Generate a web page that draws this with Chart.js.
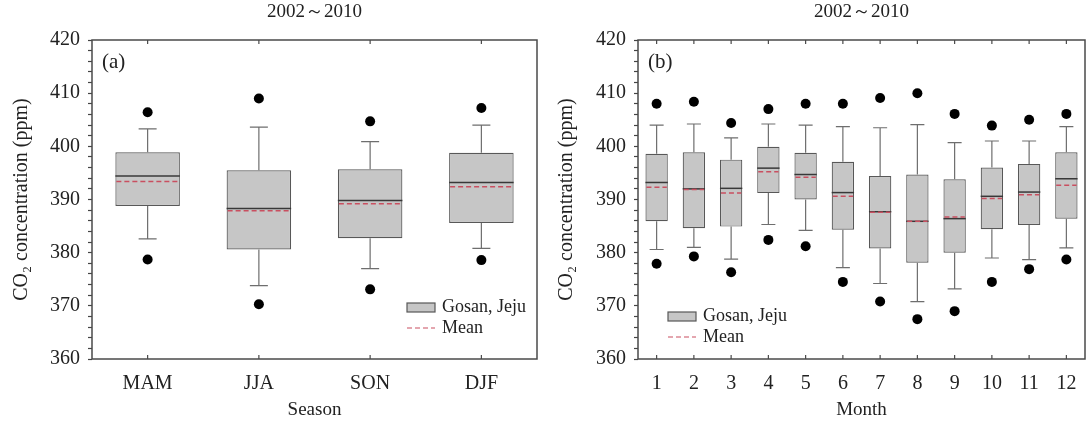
<!DOCTYPE html>
<html>
<head>
<meta charset="utf-8">
<script src="https://cdn.jsdelivr.net/npm/chart.js@4.4.1/dist/chart.umd.min.js"></script>
<style>
  body { margin: 0; background: #fff; }
  #wrap { position: relative; width: 1090px; height: 423px; }
  .panel { position: absolute; top: 0; width: 545px; height: 423px; }
</style>
</head>
<body>
<div id="wrap">
  <div class="panel" style="left:0"><canvas id="seasonChart" width="545" height="423"></canvas></div>
  <div class="panel" style="left:545px"><canvas id="monthChart" width="545" height="423"></canvas></div>
</div>
<script>
// (a) по сезонам
const seasons = ['MAM', 'JJA', 'SON', 'DJF'];
const seasonQ1 = [388.8, 380.6, 382.7, 385.6];
const seasonQ3 = [398.9, 395.5, 395.7, 398.8];
const seasonMedian = [394.4, 388.3, 389.8, 393.2];
const seasonMean = [393.4, 387.9, 389.2, 392.4];
const seasonLow = [382.6, 373.8, 377.0, 380.8];   // нижний ус
const seasonHigh = [403.3, 403.6, 400.9, 404.0];  // верхний ус
const seasonMin = [378.7, 370.3, 373.1, 378.6];   // выбросы снизу
const seasonMax = [406.4, 409.0, 404.7, 407.2];   // выбросы сверху

// (b) по месяцам
const months = ['1', '2', '3', '4', '5', '6', '7', '8', '9', '10', '11', '12'];
const monthQ1 = [385.9, 384.6, 384.9, 391.2, 390.0, 384.3, 380.8, 378.1, 380.0, 384.4, 385.2, 386.4];
const monthQ3 = [398.6, 398.9, 397.5, 399.9, 398.8, 397.1, 394.4, 394.7, 393.8, 396.0, 396.7, 398.9];
const monthMedian = [393.2, 392.0, 392.1, 395.9, 394.7, 391.3, 387.7, 385.9, 386.4, 390.6, 391.4, 393.9];
const monthMean = [392.3, 391.9, 391.2, 395.2, 394.2, 390.6, 387.6, 385.9, 386.7, 390.2, 390.9, 392.7];
const monthLow = [380.6, 381.0, 378.8, 385.3, 384.2, 377.2, 374.2, 370.8, 373.2, 379.0, 378.7, 380.9];
const monthHigh = [404.0, 404.2, 401.6, 404.2, 404.0, 403.7, 403.5, 404.1, 400.7, 401.0, 401.0, 403.7];
const monthMin = [377.9, 379.3, 376.3, 382.4, 381.2, 374.5, 370.8, 367.5, 369.0, 374.5, 376.9, 378.7];
const monthMax = [408.0, 408.4, 404.4, 407.0, 408.0, 408.0, 409.1, 410.0, 406.1, 403.9, 405.0, 406.1];

const FONT = "'Liberation Serif', 'Times New Roman', serif";
const TEXT = '#222';
const BOX_FILL = '#c6c6c6';
const BOX_LINE = '#585858';
const MEAN_COLOR = '#c94f60';

const boxPlugin = {
  id: 'boxplot',
  afterDatasetsDraw(chart) {
    const ctx = chart.ctx;
    const y = chart.scales.y;
    const ds = chart.data.datasets[0];
    const s = ds.stats;
    const bars = chart.getDatasetMeta(0).data;
    ctx.save();
    bars.forEach(function(bar, i) {
      const half = bar.width / 2;
      const cap = s.cap / 2;
      // усы
      ctx.setLineDash([]);
      ctx.strokeStyle = '#6e6e6e';
      ctx.lineWidth = 1.2;
      ctx.beginPath();
      ctx.moveTo(bar.x, y.getPixelForValue(s.q3[i]));
      ctx.lineTo(bar.x, y.getPixelForValue(s.high[i]));
      ctx.moveTo(bar.x - cap, y.getPixelForValue(s.high[i]));
      ctx.lineTo(bar.x + cap, y.getPixelForValue(s.high[i]));
      ctx.moveTo(bar.x, y.getPixelForValue(s.q1[i]));
      ctx.lineTo(bar.x, y.getPixelForValue(s.low[i]));
      ctx.moveTo(bar.x - cap, y.getPixelForValue(s.low[i]));
      ctx.lineTo(bar.x + cap, y.getPixelForValue(s.low[i]));
      ctx.stroke();
      // медиана
      ctx.strokeStyle = '#383838';
      ctx.lineWidth = 1.5;
      ctx.beginPath();
      ctx.moveTo(bar.x - half, y.getPixelForValue(s.median[i]));
      ctx.lineTo(bar.x + half, y.getPixelForValue(s.median[i]));
      ctx.stroke();
      // среднее
      ctx.strokeStyle = MEAN_COLOR;
      ctx.setLineDash([5, 3]);
      ctx.beginPath();
      ctx.moveTo(bar.x - half + 1, y.getPixelForValue(s.mean[i]));
      ctx.lineTo(bar.x + half - 1, y.getPixelForValue(s.mean[i]));
      ctx.stroke();
    });
    ctx.restore();
  },
  afterDraw(chart) {
    const ctx = chart.ctx;
    const a = chart.chartArea;
    const x = chart.scales.x;
    const s = chart.data.datasets[0].stats;
    ctx.save();
    // рамка
    ctx.setLineDash([]);
    ctx.strokeStyle = '#4a4a4a';
    ctx.lineWidth = 1.5;
    ctx.strokeRect(a.left, a.top, a.right - a.left, a.bottom - a.top);
    // засечки по оси X сверху и снизу
    ctx.lineWidth = 1.2;
    ctx.beginPath();
    chart.data.labels.forEach(function(l, i) {
      const px = x.getPixelForValue(i);
      ctx.moveTo(px, a.bottom);
      ctx.lineTo(px, a.bottom - 4);
      ctx.moveTo(px, a.top);
      ctx.lineTo(px, a.top + 4);
    });
    ctx.stroke();
    // подпись панели
    ctx.fillStyle = TEXT;
    ctx.font = '21px ' + FONT;
    ctx.textBaseline = 'middle';
    ctx.textAlign = 'left';
    ctx.fillText(s.panel, a.left + 10, a.top + 22);
    // легенда
    const lx = s.legendRight ? a.right - 130 : a.left + 30;
    const ly = s.legendRight ? a.bottom - 56 : a.bottom - 47;
    ctx.fillStyle = BOX_FILL;
    ctx.fillRect(lx, ly, 28, 9);
    ctx.strokeStyle = BOX_LINE;
    ctx.lineWidth = 1.2;
    ctx.strokeRect(lx, ly, 28, 9);
    ctx.strokeStyle = MEAN_COLOR;
    ctx.setLineDash([5, 3]);
    ctx.beginPath();
    ctx.moveTo(lx, ly + 25);
    ctx.lineTo(lx + 28, ly + 25);
    ctx.stroke();
    ctx.fillStyle = TEXT;
    ctx.font = '18px ' + FONT;
    ctx.fillText('Gosan, Jeju', lx + 35, ly + 4.5);
    ctx.fillText('Mean', lx + 35, ly + 25);
    ctx.restore();
  }
};

function make_chart(id, labels, stats, xTitle, yWidth, rightPad) { //создание графика
  return new Chart(document.getElementById(id), {
    type: 'bar',
    data: {
      labels: labels,
      datasets: [
        {
          data: labels.map((l, i) => [stats.q1[i], stats.q3[i]]),
          backgroundColor: BOX_FILL,
          borderColor: BOX_LINE,
          borderWidth: 1.2,
          borderSkipped: false,
          categoryPercentage: 1,
          barPercentage: stats.barPct,
          stats: stats
        },
        {
          type: 'line',
          data: stats.max,
          showLine: false,
          pointRadius: 5,
          pointBackgroundColor: '#000',
          pointBorderWidth: 0
        },
        {
          type: 'line',
          data: stats.min,
          showLine: false,
          pointRadius: 5,
          pointBackgroundColor: '#000',
          pointBorderWidth: 0
        }
      ]
    },
    options: {
      responsive: false,
      animation: false,
      layout: { padding: { left: 0, right: rightPad, top: 0, bottom: 0 } },
      plugins: {
        legend: { display: false },
        tooltip: { enabled: false },
        title: {
          display: true,
          fullSize: false,
          text: '2002～2010',
          color: TEXT,
          font: { family: FONT, size: 19, weight: 'normal' },
          padding: { top: 1, bottom: 16.2 }
        }
      },
      scales: {
        x: {
          grid: { display: false },
          border: { display: false },
          ticks: { color: TEXT, font: { family: FONT, size: 20 }, padding: 5, maxRotation: 0, autoSkip: false },
          title: { display: true, text: xTitle, color: TEXT, font: { family: FONT, size: 19 }, padding: { top: 0, bottom: 2 } },
          afterFit: function(scale) { scale.height = 64; }
        },
        y: {
          min: 360,
          max: 420,
          border: { display: false },
          grid: { drawOnChartArea: false, drawTicks: true, tickLength: 4, color: '#444', tickWidth: 1.2 },
          ticks: {
            stepSize: 2,
            autoSkip: false,
            color: TEXT,
            font: { family: FONT, size: 20 },
            padding: 8,
            callback: v => (v % 10 === 0 ? v : '')
          },
          title: { display: true, text: 'CO₂ concentration (ppm)', color: TEXT, font: { family: FONT, size: 20 }, padding: { top: 10, bottom: 0 } },
          afterFit: function(scale) { scale.width = yWidth; }
        }
      }
    },
    plugins: [boxPlugin]
  });
}

const seasonChart = make_chart('seasonChart', seasons, {
  q1: seasonQ1, q3: seasonQ3, median: seasonMedian, mean: seasonMean,
  low: seasonLow, high: seasonHigh, min: seasonMin, max: seasonMax,
  barPct: 0.58, cap: 18, panel: '(a)', legendRight: true
}, 'Season', 92, 8);

const monthChart = make_chart('monthChart', months, {
  q1: monthQ1, q3: monthQ3, median: monthMedian, mean: monthMean,
  low: monthLow, high: monthHigh, min: monthMin, max: monthMax,
  barPct: 0.6, cap: 14, panel: '(b)', legendRight: false
}, 'Month', 93, 2);
</script>
</body>
</html>
